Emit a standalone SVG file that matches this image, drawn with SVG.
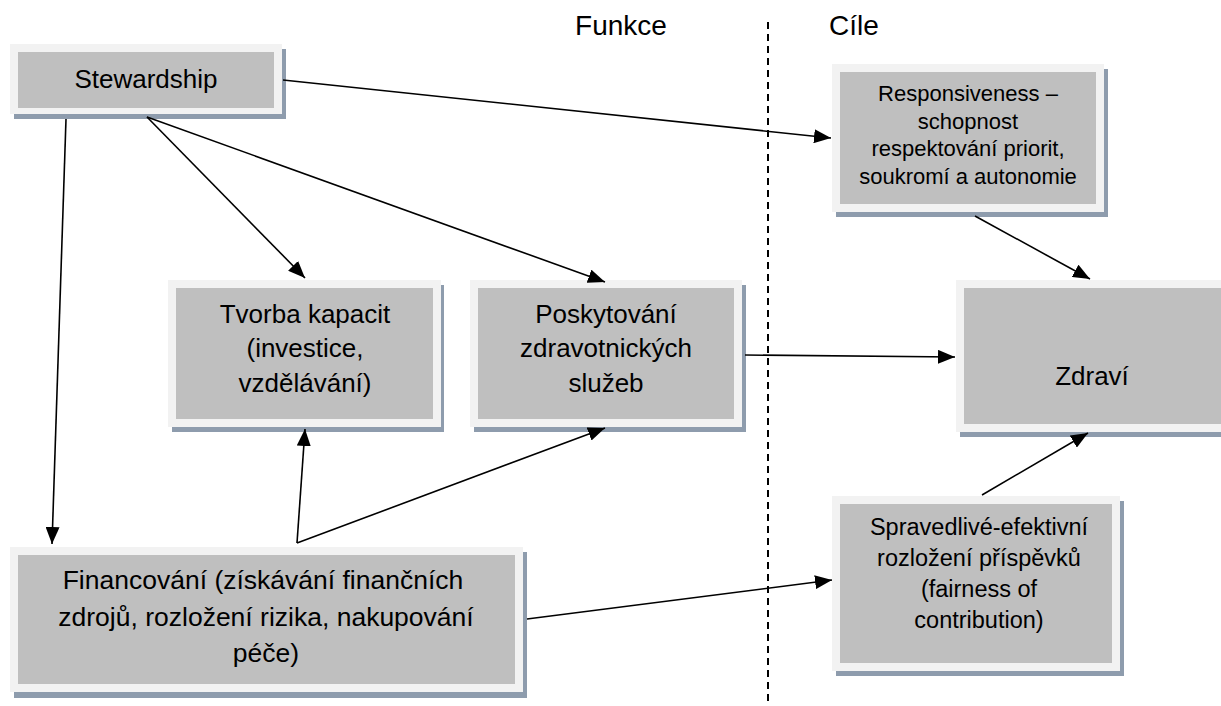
<svg xmlns="http://www.w3.org/2000/svg" width="1221" height="706" viewBox="0 0 1221 706">
<defs>
<style>
.sh{fill:#8e9cad}
.out{fill:#f2f2f2}
.in{fill:#bfbfbf}
text{font-family:"Liberation Sans",Arial,sans-serif;fill:#000;text-anchor:middle}
.t{font-size:26px}
.f{font-size:26.5px}
.s{font-size:22px}
.m{font-size:23.5px}
.h{font-size:28px}
.c{stroke:#000;stroke-width:1.6;fill:none;marker-end:url(#ah)}
</style>
<marker id="ah" markerUnits="userSpaceOnUse" markerWidth="18" markerHeight="14" refX="17" refY="7" orient="auto">
<path d="M0,0 L17,7 L0,14 z" fill="#000"/>
</marker>
</defs>
<rect width="1221" height="706" fill="#fff"/>
<text class="h" x="621" y="35">Funkce</text>
<text class="h" x="854" y="35">Cíle</text>
<line x1="768" y1="22" x2="768" y2="706" stroke="#000" stroke-width="2" stroke-dasharray="7 5"/>

<g id="stewardship">
<rect class="sh" x="14" y="49" width="272" height="70"/>
<rect class="out" x="10" y="44" width="272" height="70"/>
<rect class="in" x="18" y="52" width="256" height="56"/>
<text class="t" x="146" y="88">Stewardship</text>
</g>

<g id="responsiveness">
<rect class="sh" x="836" y="69" width="272" height="148"/>
<rect class="out" x="832" y="64" width="272" height="148"/>
<rect class="in" x="840" y="72" width="256" height="132"/>
<text class="s" x="968" y="101">Responsiveness –</text>
<text class="s" x="968" y="128.5">schopnost</text>
<text class="s" x="968" y="156">respektování priorit,</text>
<text class="s" x="968" y="183.5">soukromí a autonomie</text>
</g>

<g id="tvorba">
<rect class="sh" x="172" y="285" width="272" height="147"/>
<rect class="out" x="168" y="280" width="273" height="147"/>
<rect class="in" x="176" y="288" width="257" height="131"/>
<text class="t" x="305" y="323">Tvorba kapacit</text>
<text class="t" x="305" y="357">(investice,</text>
<text class="t" x="305" y="392">vzdělávání)</text>
</g>

<g id="poskytovani">
<rect class="sh" x="474" y="285" width="272" height="147"/>
<rect class="out" x="470" y="280" width="272" height="147"/>
<rect class="in" x="478" y="288" width="256" height="131"/>
<text class="t" x="606" y="323">Poskytování</text>
<text class="t" x="606" y="357">zdravotnických</text>
<text class="t" x="606" y="392">služeb</text>
</g>

<g id="zdravi">
<rect class="sh" x="960" y="285" width="272" height="152"/>
<rect class="out" x="956" y="280" width="272" height="152"/>
<rect class="in" x="964" y="288" width="257" height="136"/>
<text class="t" x="1092" y="385">Zdraví</text>
</g>

<g id="financovani">
<rect class="sh" x="14" y="552" width="513" height="146"/>
<rect class="out" x="10" y="547" width="513" height="145"/>
<rect class="in" x="18" y="555" width="497" height="129"/>
<text class="f" x="263" y="589">Financování (získávání finančních</text>
<text class="f" x="266" y="626">zdrojů, rozložení rizika, nakupování</text>
<text class="f" x="266" y="662">péče)</text>
</g>

<g id="spravedlive">
<rect class="sh" x="836" y="501" width="288" height="175"/>
<rect class="out" x="832" y="496" width="288" height="175"/>
<rect class="in" x="840" y="504" width="272" height="159"/>
<text class="m" x="979" y="535">Spravedlivé-efektivní</text>
<text class="m" x="979" y="566">rozložení příspěvků</text>
<text class="m" x="979" y="597">(fairness of</text>
<text class="m" x="979" y="628">contribution)</text>
</g>

<g id="connectors">
<line class="c" x1="283" y1="80" x2="831" y2="138"/>
<line class="c" x1="147" y1="117" x2="305" y2="278"/>
<line class="c" x1="147" y1="117" x2="605" y2="282"/>
<line class="c" x1="66" y1="119" x2="52" y2="544"/>
<line class="c" x1="297" y1="543" x2="305" y2="429"/>
<line class="c" x1="297" y1="543" x2="605" y2="428"/>
<line class="c" x1="745" y1="355" x2="955" y2="357"/>
<line class="c" x1="975" y1="216" x2="1090" y2="279"/>
<line class="c" x1="982" y1="495" x2="1088" y2="433"/>
<line class="c" x1="527" y1="619" x2="832" y2="580"/>
</g>
</svg>
